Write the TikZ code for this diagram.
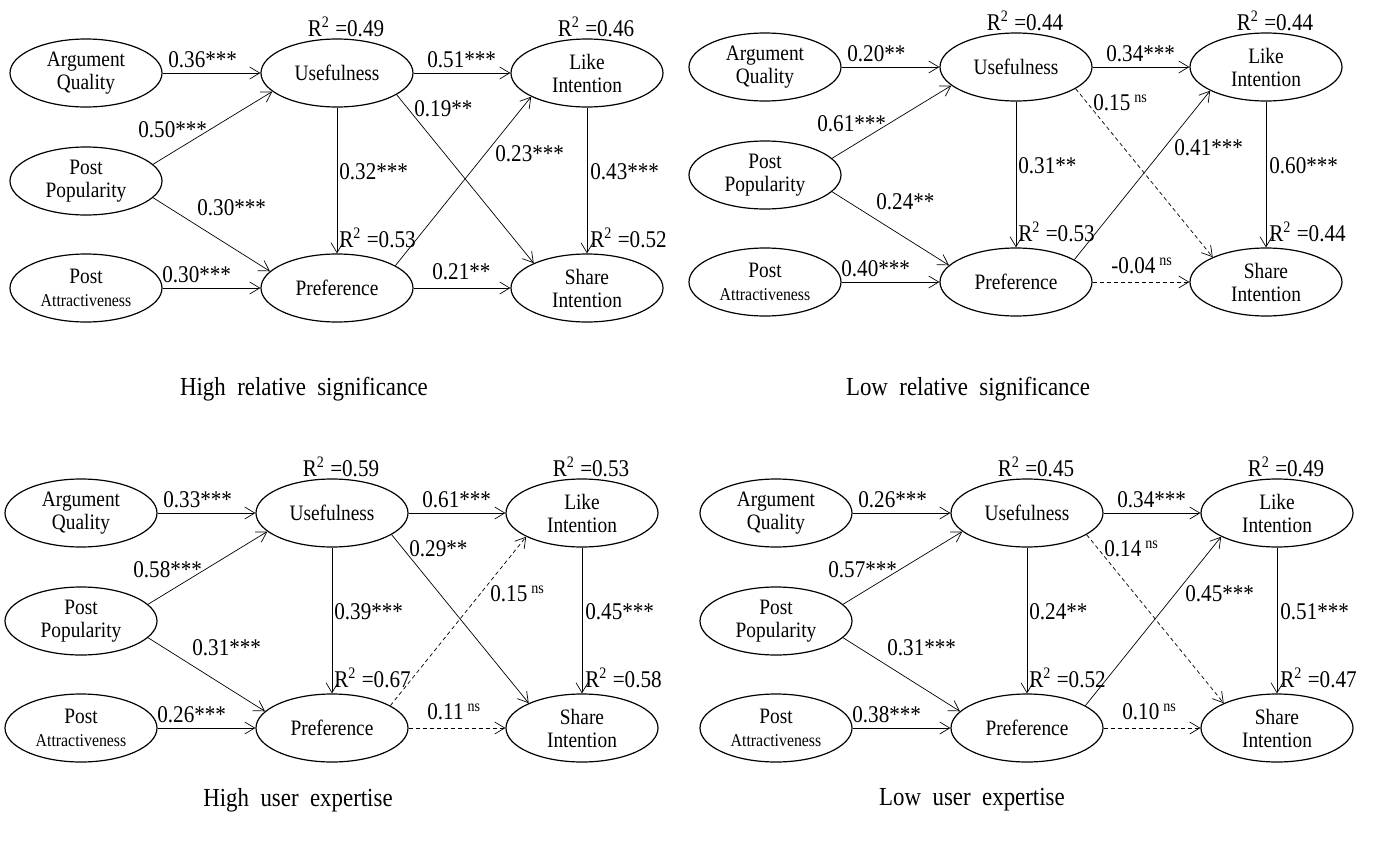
\documentclass[tikz,border=0pt]{standalone}
\usepackage{fontspec}
\setmainfont{Liberation Serif}
\newfontfamily\narrowserif[FakeStretch=0.88]{Liberation Serif}
\usetikzlibrary{shapes.geometric,arrows.meta}

\tikzset{
  construct/.style={draw, ellipse, line width=0.6pt, minimum width=76pt, minimum height=34pt,
    inner sep=0pt, align=center, font=\narrowserif\fontsize{11}{11.5}\selectfont},
  link/.style={-{Straight Barb[length=5pt,width=6pt]}, line width=0.35pt},
  nslink/.style={link, dash pattern=on 2pt off 1.5pt},
  coef/.style={anchor=west, inner sep=0pt, font=\narrowserif\fontsize{12}{12}\selectfont},
  rsq/.style={inner sep=0pt, font=\narrowserif\fontsize{12}{12}\selectfont},
  caption/.style={inner sep=0pt, font=\narrowserif\fontsize{13}{13}\selectfont}
}

\begin{document}
\begin{tikzpicture}[x=0.5pt, y=-0.5pt]
\useasboundingbox (0,0) rectangle (1378,841);

% Drawing the seven constructs of each panel
\foreach \p/\dx/\dy in {A/0/0, B/679/-6, C/-5/440, D/690/440}{
  \begin{scope}[shift={(\dx,\dy)}]
    \node[construct] (\p-arg) at (86,73) {Argument\\Quality};
    \node[construct] (\p-pop) at (86,181) {Post\\Popularity};
    \node[construct] (\p-att) at (86,288) {Post\\{\fontsize{9}{10}\selectfont Attractiveness}};
    \node[construct] (\p-use) at (337,73) {Usefulness};
    \node[construct] (\p-pref) at (337,288) {Preference};
    \node[construct] (\p-like) at (587,73) {Like\\Intention};
    \node[construct] (\p-share) at (587,288) {Share\\Intention};
  \end{scope}
}

% Panel A: high relative significance
\draw[link] (A-arg) -- (A-use);
\draw[link] (A-pop.14) -- (A-use.196);
\draw[link] (A-pop.346) -- (A-pref.166);
\draw[link] (A-att) -- (A-pref);
\draw[link] (A-use) -- (A-pref);
\draw[link] (A-use.340) -- (A-share.155);
\draw[link] (A-pref.21) -- (A-like.203);
\draw[link] (A-like) -- (A-share);
\draw[link] (A-pref) -- (A-share);
\draw[link] (A-use) -- (A-like);
\begin{scope}[shift={(0,0)}]
  \node[rsq] (A-r1) at (346,27) {R\textsuperscript{2} =0.49};
  \node[rsq] (A-r2) at (596,27) {R\textsuperscript{2} =0.46};
  \node[rsq,anchor=west] (A-r3) at (339,238) {R\textsuperscript{2} =0.53};
  \node[rsq,anchor=west] (A-r4) at (590,238) {R\textsuperscript{2} =0.52};
  \node[coef] (A-c1) at (168,60) {0.36***};
  \node[coef] (A-c2) at (138,130) {0.50***};
  \node[coef] (A-c3) at (197,208) {0.30***};
  \node[coef] (A-c4) at (162,275) {0.30***};
  \node[coef] (A-c5) at (339,172) {0.32***};
  \node[coef] (A-c6) at (414,109) {0.19**};
  \node[coef] (A-c7) at (495,154) {0.23***};
  \node[coef] (A-c8) at (590,172) {0.43***};
  \node[coef] (A-c9) at (432,272) {0.21**};
  \node[coef] (A-c10) at (427,60) {0.51***};
  \node[caption] (A-cap) at (304,389) {High\ \ relative\ \ significance};
\end{scope}

% Panel B: low relative significance
\draw[link] (B-arg) -- (B-use);
\draw[link] (B-pop.14) -- (B-use.196);
\draw[link] (B-pop.346) -- (B-pref.166);
\draw[link] (B-att) -- (B-pref);
\draw[link] (B-use) -- (B-pref);
\draw[nslink] (B-use.340) -- (B-share.155);
\draw[link] (B-pref.21) -- (B-like.203);
\draw[link] (B-like) -- (B-share);
\draw[nslink] (B-pref) -- (B-share);
\draw[link] (B-use) -- (B-like);
\begin{scope}[shift={(679,-6)}]
  \node[rsq] (B-r1) at (346,27) {R\textsuperscript{2} =0.44};
  \node[rsq] (B-r2) at (596,27) {R\textsuperscript{2} =0.44};
  \node[rsq,anchor=west] (B-r3) at (339,238) {R\textsuperscript{2} =0.53};
  \node[rsq,anchor=west] (B-r4) at (590,238) {R\textsuperscript{2} =0.44};
  \node[coef] (B-c1) at (168,60) {0.20**};
  \node[coef] (B-c2) at (138,130) {0.61***};
  \node[coef] (B-c3) at (197,208) {0.24**};
  \node[coef] (B-c4) at (162,275) {0.40***};
  \node[coef] (B-c5) at (339,172) {0.31**};
  \node[coef] (B-c6) at (414,109) {0.15\,\textsuperscript{ns}};
  \node[coef] (B-c7) at (495,154) {0.41***};
  \node[coef] (B-c8) at (590,172) {0.60***};
  \node[coef] (B-c9) at (432,272) {-0.04\,\textsuperscript{ns}};
  \node[coef] (B-c10) at (427,60) {0.34***};
  \node[caption] (B-cap) at (289,395) {Low\ \ relative\ \ significance};
\end{scope}

% Panel C: high user expertise
\draw[link] (C-arg) -- (C-use);
\draw[link] (C-pop.14) -- (C-use.196);
\draw[link] (C-pop.346) -- (C-pref.166);
\draw[link] (C-att) -- (C-pref);
\draw[link] (C-use) -- (C-pref);
\draw[link] (C-use.340) -- (C-share.155);
\draw[nslink] (C-pref.21) -- (C-like.203);
\draw[link] (C-like) -- (C-share);
\draw[nslink] (C-pref) -- (C-share);
\draw[link] (C-use) -- (C-like);
\begin{scope}[shift={(-5,440)}]
  \node[rsq] (C-r1) at (346,27) {R\textsuperscript{2} =0.59};
  \node[rsq] (C-r2) at (596,27) {R\textsuperscript{2} =0.53};
  \node[rsq,anchor=west] (C-r3) at (339,238) {R\textsuperscript{2} =0.67};
  \node[rsq,anchor=west] (C-r4) at (590,238) {R\textsuperscript{2} =0.58};
  \node[coef] (C-c1) at (168,60) {0.33***};
  \node[coef] (C-c2) at (138,130) {0.58***};
  \node[coef] (C-c3) at (197,208) {0.31***};
  \node[coef] (C-c4) at (162,275) {0.26***};
  \node[coef] (C-c5) at (339,172) {0.39***};
  \node[coef] (C-c6) at (414,109) {0.29**};
  \node[coef] (C-c7) at (495,154) {0.15\,\textsuperscript{ns}};
  \node[coef] (C-c8) at (590,172) {0.45***};
  \node[coef] (C-c9) at (432,272) {0.11\,\textsuperscript{ns}};
  \node[coef] (C-c10) at (427,60) {0.61***};
  \node[caption] (C-cap) at (303,360) {High\ \ user\ \ expertise};
\end{scope}

% Panel D: low user expertise
\draw[link] (D-arg) -- (D-use);
\draw[link] (D-pop.14) -- (D-use.196);
\draw[link] (D-pop.346) -- (D-pref.166);
\draw[link] (D-att) -- (D-pref);
\draw[link] (D-use) -- (D-pref);
\draw[nslink] (D-use.340) -- (D-share.155);
\draw[link] (D-pref.21) -- (D-like.203);
\draw[link] (D-like) -- (D-share);
\draw[nslink] (D-pref) -- (D-share);
\draw[link] (D-use) -- (D-like);
\begin{scope}[shift={(690,440)}]
  \node[rsq] (D-r1) at (346,27) {R\textsuperscript{2} =0.45};
  \node[rsq] (D-r2) at (596,27) {R\textsuperscript{2} =0.49};
  \node[rsq,anchor=west] (D-r3) at (339,238) {R\textsuperscript{2} =0.52};
  \node[rsq,anchor=west] (D-r4) at (590,238) {R\textsuperscript{2} =0.47};
  \node[coef] (D-c1) at (168,60) {0.26***};
  \node[coef] (D-c2) at (138,130) {0.57***};
  \node[coef] (D-c3) at (197,208) {0.31***};
  \node[coef] (D-c4) at (162,275) {0.38***};
  \node[coef] (D-c5) at (339,172) {0.24**};
  \node[coef] (D-c6) at (414,109) {0.14\,\textsuperscript{ns}};
  \node[coef] (D-c7) at (495,154) {0.45***};
  \node[coef] (D-c8) at (590,172) {0.51***};
  \node[coef] (D-c9) at (432,272) {0.10\,\textsuperscript{ns}};
  \node[coef] (D-c10) at (427,60) {0.34***};
  \node[caption] (D-cap) at (282,360) {Low\ \ user\ \ expertise};
\end{scope}
\end{tikzpicture}
\end{document}
